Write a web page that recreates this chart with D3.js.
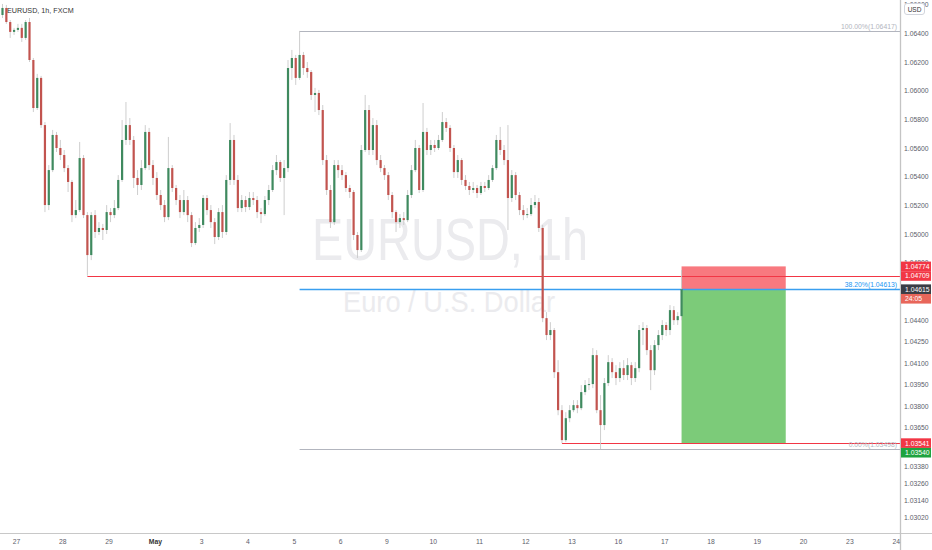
<!DOCTYPE html>
<html><head><meta charset="utf-8">
<script src="https://cdn.jsdelivr.net/npm/d3@7"></script>
<style>html,body{margin:0;padding:0;background:#fff;}svg{display:block;}</style>
</head><body>
<svg id="c" width="932" height="550"></svg>
<script>
// ---- data (2-hour bars) ----
const startHour = -8;   // hours from Apr 27 00:00
const barHours = 2;
const opens = [1.06528,1.06577,1.06479,1.06410,1.06424,1.06438,1.06368,1.06479,1.06214,1.05879,
1.06089,1.05760,1.05202,1.05446,1.05691,1.05600,1.05551,1.05460,1.05363,1.05132,
1.05167,1.05530,1.05132,1.04853,1.05132,1.05014,1.05042,1.05028,1.05153,1.05132,
1.05181,1.05377,1.05656,1.05760,1.05656,1.05391,1.05342,1.05460,1.05712,1.05481,
1.05391,1.05272,1.05202,1.05118,1.05460,1.05321,1.05237,1.05153,1.05237,1.05132,
1.04937,1.05042,1.05063,1.05251,1.05167,1.05083,1.04979,1.05153,1.05014,1.05377,
1.05656,1.05377,1.05181,1.05237,1.05188,1.05251,1.05237,1.05153,1.05139,1.05237,
1.05307,1.05446,1.05502,1.05391,1.05460,1.06158,1.06228,1.06089,1.06249,1.06158,
1.06130,1.05970,1.05984,1.05865,1.05516,1.05307,1.05083,1.05481,1.05446,1.05411,
1.05321,1.05293,1.04993,1.04888,1.05586,1.05865,1.05586,1.05760,1.05516,1.05460,
1.05411,1.05272,1.05153,1.05083,1.05111,1.05097,1.05272,1.05446,1.05600,1.05307,
1.05712,1.05586,1.05621,1.05600,1.05656,1.05781,1.05740,1.05600,1.05432,1.05516,
1.05377,1.05335,1.05307,1.05321,1.05286,1.05335,1.05321,1.05377,1.05460,1.05656,
1.05586,1.05516,1.05251,1.05411,1.05272,1.05167,1.05132,1.05139,1.05202,1.05223,
1.05042,1.04413,1.04295,1.04330,1.04036,1.03771,1.03562,1.03715,1.03771,1.03806,
1.03785,1.03897,1.03946,1.03953,1.04155,1.03771,1.03667,1.03960,1.04106,1.04036,
1.03995,1.04064,1.04016,1.04085,1.03995,1.04064,1.04330,1.04344,1.04190,1.04050,
1.04225,1.04295,1.04365,1.04330,1.04469,1.04399,1.04427];
const highs = [1.06605,1.06598,1.06493,1.06438,1.06466,1.06466,1.06493,1.06507,1.06228,1.06117,
1.06103,1.05781,1.05481,1.05726,1.05712,1.05656,1.05586,1.05481,1.05377,1.05237,
1.05642,1.05551,1.05153,1.05153,1.05167,1.05083,1.05070,1.05202,1.05181,1.05237,
1.05411,1.05795,1.05921,1.05809,1.05684,1.05446,1.05516,1.05760,1.05740,1.05516,
1.05432,1.05307,1.05237,1.05677,1.05481,1.05342,1.05272,1.05307,1.05265,1.05153,
1.05083,1.05111,1.05272,1.05272,1.05202,1.05111,1.05181,1.05202,1.05411,1.05774,
1.05691,1.05411,1.05272,1.05265,1.05293,1.05293,1.05265,1.05181,1.05265,1.05342,
1.05481,1.05551,1.05516,1.05516,1.06214,1.06284,1.06249,1.06417,1.06270,1.06200,
1.06144,1.06019,1.06005,1.05900,1.05551,1.05342,1.05516,1.05516,1.05481,1.05432,
1.05342,1.05307,1.05014,1.05621,1.05970,1.05900,1.05809,1.05795,1.05551,1.05481,
1.05432,1.05293,1.05167,1.05139,1.05153,1.05307,1.05481,1.05656,1.05621,1.05914,
1.05740,1.05656,1.05656,1.05691,1.05851,1.05809,1.05760,1.05621,1.05551,1.05530,
1.05411,1.05363,1.05363,1.05342,1.05363,1.05363,1.05411,1.05481,1.05691,1.05747,
1.05621,1.05760,1.05446,1.05432,1.05293,1.05202,1.05181,1.05251,1.05272,1.05251,
1.05063,1.04455,1.04385,1.04344,1.04120,1.03806,1.03757,1.03806,1.03841,1.03841,
1.03946,1.03981,1.03995,1.04204,1.04190,1.03876,1.03995,1.04155,1.04134,1.04085,
1.04106,1.04120,1.04134,1.04106,1.04106,1.04365,1.04385,1.04365,1.04225,1.04260,
1.04330,1.04399,1.04385,1.04504,1.04497,1.04455,1.04748];
const lows = [1.06507,1.06466,1.06368,1.06389,1.06410,1.06340,1.06354,1.06200,1.05851,1.05865,
1.05740,1.05153,1.05167,1.05432,1.05572,1.05516,1.05432,1.05293,1.05083,1.05111,
1.05153,1.05111,1.04709,1.04818,1.04972,1.04993,1.04958,1.05000,1.05083,1.05111,
1.05167,1.05363,1.05621,1.05621,1.05321,1.05272,1.05307,1.05446,1.05446,1.05342,
1.05237,1.05167,1.05083,1.05097,1.05293,1.05202,1.05111,1.05132,1.05083,1.04909,
1.04923,1.05014,1.05042,1.05132,1.05042,1.04930,1.04958,1.04972,1.04993,1.05342,
1.05342,1.05153,1.05153,1.05153,1.05167,1.05202,1.05111,1.05076,1.05125,1.05202,
1.05293,1.05411,1.05363,1.05132,1.05432,1.06075,1.06040,1.06075,1.06110,1.06089,
1.05935,1.05851,1.05830,1.05481,1.05272,1.05042,1.05063,1.05391,1.05377,1.05293,
1.05251,1.04958,1.04832,1.04874,1.05572,1.05551,1.05551,1.05481,1.05432,1.05377,
1.05237,1.05111,1.05014,1.05042,1.05063,1.05083,1.05251,1.05432,1.05286,1.05293,
1.05551,1.05551,1.05572,1.05586,1.05642,1.05712,1.05572,1.05391,1.05391,1.05342,
1.05307,1.05272,1.05286,1.05251,1.05272,1.05293,1.05307,1.05363,1.05446,1.05551,
1.05481,1.05028,1.05223,1.05237,1.05132,1.05097,1.05111,1.05125,1.05181,1.05014,
1.04385,1.04260,1.04260,1.03995,1.03736,1.03541,1.03548,1.03687,1.03757,1.03750,
1.03771,1.03876,1.03911,1.03925,1.03750,1.03498,1.03632,1.03939,1.03995,1.03946,
1.03967,1.03981,1.03981,1.03946,1.03967,1.04036,1.04225,1.04155,1.03911,1.04016,
1.04190,1.04260,1.04288,1.04295,1.04365,1.04365,1.04399];
const closes = [1.06577,1.06479,1.06410,1.06424,1.06438,1.06368,1.06479,1.06214,1.05879,1.06089,
1.05760,1.05202,1.05446,1.05691,1.05600,1.05551,1.05460,1.05363,1.05132,1.05167,
1.05530,1.05132,1.04853,1.05132,1.05014,1.05042,1.05028,1.05153,1.05132,1.05181,
1.05377,1.05656,1.05760,1.05656,1.05391,1.05342,1.05460,1.05712,1.05481,1.05391,
1.05272,1.05202,1.05118,1.05460,1.05321,1.05237,1.05153,1.05237,1.05132,1.04937,
1.05042,1.05063,1.05251,1.05167,1.05083,1.04979,1.05153,1.05014,1.05377,1.05656,
1.05377,1.05181,1.05237,1.05188,1.05251,1.05237,1.05153,1.05139,1.05237,1.05307,
1.05446,1.05502,1.05391,1.05460,1.06158,1.06228,1.06089,1.06249,1.06158,1.06130,
1.05970,1.05984,1.05865,1.05516,1.05307,1.05083,1.05481,1.05446,1.05411,1.05321,
1.05293,1.04993,1.04888,1.05586,1.05865,1.05586,1.05760,1.05516,1.05460,1.05411,
1.05272,1.05153,1.05083,1.05111,1.05097,1.05272,1.05446,1.05600,1.05307,1.05712,
1.05586,1.05621,1.05600,1.05656,1.05781,1.05740,1.05600,1.05432,1.05516,1.05377,
1.05335,1.05307,1.05321,1.05286,1.05335,1.05321,1.05377,1.05460,1.05656,1.05586,
1.05516,1.05251,1.05411,1.05272,1.05167,1.05132,1.05139,1.05202,1.05223,1.05042,
1.04413,1.04295,1.04330,1.04036,1.03771,1.03562,1.03715,1.03771,1.03806,1.03785,
1.03897,1.03946,1.03953,1.04155,1.03771,1.03667,1.03960,1.04106,1.04036,1.03995,
1.04064,1.04016,1.04085,1.03995,1.04064,1.04330,1.04344,1.04190,1.04050,1.04225,
1.04295,1.04365,1.04330,1.04469,1.04399,1.04427,1.04615];

const dayLabels = ["27","28","29","May","3","4","5","6","9","10","11","12","13","16","17","18","19","20","23","24"];
const priceTicks = [1.06600,1.06400,1.06200,1.06000,1.05800,1.05600,1.05400,1.05200,1.05000,1.04800,
  1.04400,1.04250,1.04100,1.03950,1.03800,1.03650,1.03380,1.03260,1.03140,1.03020];

// drawings
const redLevel1 = 1.04709, redLevel1From = 36;   // hour anchor
const redLevel2 = 1.03541, redLevel2From = 282;
const fibHigh = 1.06417, fibLow = 1.03498, fib382 = 1.04613, fibFrom = 146;
const posEntry = 1.04613, posStop = 1.04774, posTarget = 1.03540, posFrom = 345, posTo = 399;
const axisBoxes = [
  {v:1.04774, label:"1.04774", fill:"#f23645"},
  {v:1.04709, label:"1.04709", fill:"#f23645"},
  {v:1.04615, label:"1.04615", fill:"#3a3d45"},
  {v:null, label:"24:05", fill:"#e8665a"},
  {v:1.03541, label:"1.03541", fill:"#f23645"},
  {v:1.03540, label:"1.03540", fill:"#1ea33f"}
];

// ---- layout ----
const W = 932, H = 550, axisX = 900, axisY = 533;
const svg = d3.select("#c");
const x = d3.scaleLinear().domain([0, 19*24]).range([16, 895.7]);
const y = d3.scaleLinear().domain([1.029139, 1.066326]).range([axisY, 0]);
const cy = v => Math.round(y(v)) + 0.5;
const font = "'Liberation Sans', Arial, sans-serif";

const bars = opens.map((o,i)=>({o, h:highs[i], l:lows[i], c:closes[i], t:startHour + i*barHours}));

// watermark
svg.append("text").attr("x", 312).attr("y", 260).attr("textLength", 276).attr("lengthAdjust","spacingAndGlyphs")
  .attr("font-family", font).attr("font-size", 60).attr("fill", "#ebebee").text("EURUSD, 1h");
svg.append("text").attr("x", 343).attr("y", 312).attr("textLength", 212).attr("lengthAdjust","spacingAndGlyphs")
  .attr("font-family", font).attr("font-size", 30).attr("fill", "#ebebee").text("Euro / U.S. Dollar");

// position tool
svg.append("rect").attr("x", x(posFrom)).attr("width", x(posTo)-x(posFrom))
  .attr("y", y(posStop)).attr("height", y(posEntry)-y(posStop)).attr("fill", "#f8797f");
svg.append("rect").attr("x", x(posFrom)).attr("width", x(posTo)-x(posFrom))
  .attr("y", y(posEntry)).attr("height", y(posTarget)-y(posEntry)).attr("fill", "#7ccb79");

const plot = svg.append("g");
function hline(v, from, col, w) {
  plot.append("line").attr("x1", x(from+1)).attr("x2", axisX).attr("y1", cy(v)).attr("y2", cy(v))
    .attr("stroke", col).attr("stroke-width", w);
}
hline(fibHigh, fibFrom, "#b2b5be", 1);
hline(fibLow, fibFrom, "#b2b5be", 1);
hline(redLevel1, redLevel1From, "#f23645", 1.2);
hline(redLevel2, redLevel2From, "#f23645", 1.2);
hline(fib382, fibFrom, "#3a9ff0", 1.6);

// fib labels
const fibLab = [[fibHigh,"100.00%(1.06417)","#b2b5be"],[fib382,"38.20%(1.04613)","#2196f3"],[fibLow,"0.00%(1.03498)","#b2b5be"]];
fibLab.forEach(([v,t,col])=>{
  svg.append("text").attr("x", axisX-3).attr("y", y(v)-2).attr("text-anchor","end")
    .attr("font-family", font).attr("font-size", 6.8).attr("fill", col).text(t);
});

// candles
const cg = svg.append("g");
cg.selectAll("line.w").data(bars).join("line").attr("class","w")
  .attr("x1", d=>x(d.t+barHours/2)).attr("x2", d=>x(d.t+barHours/2))
  .attr("y1", d=>y(d.h)).attr("y2", d=>y(d.l)).attr("stroke", "#c8c8c8").attr("stroke-width", 0.9);
cg.selectAll("rect.b").data(bars).join("rect").attr("class","b")
  .attr("x", d=>x(d.t+barHours/2)-1.1).attr("width", 2.2)
  .attr("y", d=>y(Math.max(d.o,d.c)))
  .attr("height", d=>Math.max(1, Math.abs(y(d.o)-y(d.c))))
  .attr("fill", d=>d.c>=d.o ? "#3f8a5f" : "#c2544f");

// title
svg.append("text").attr("x", 7).attr("y", 13).attr("font-family", font).attr("font-size", 7.2)
  .attr("fill", "#333").text("EURUSD, 1h, FXCM");

// axes frame
svg.append("rect").attr("x", axisX).attr("y", 0).attr("width", W-axisX).attr("height", H).attr("fill", "#fff");
svg.append("rect").attr("x", 0).attr("y", axisY).attr("width", W).attr("height", H-axisY).attr("fill", "#fff");
svg.append("line").attr("x1", 0).attr("x2", W).attr("y1", axisY+0.5).attr("y2", axisY+0.5).attr("stroke", "#c8c8c8");
svg.append("line").attr("x1", axisX+0.5).attr("x2", axisX+0.5).attr("y1", 0).attr("y2", H).attr("stroke", "#c4c4c4").attr("stroke-width", 1.3);

const yAxis = svg.append("g").attr("transform", `translate(${axisX},0)`)
  .call(d3.axisRight(y).tickValues(priceTicks).tickFormat(d3.format(".5f")).tickSize(0).tickPadding(4));
yAxis.select(".domain").remove();
yAxis.selectAll("text").attr("font-family", font).attr("font-size", 6.8).attr("fill", "#5d606b");

const xAxis = svg.append("g").attr("transform", `translate(0,${axisY})`)
  .call(d3.axisBottom(x).tickValues(dayLabels.map((d,i)=>i*24)).tickFormat((d,i)=>dayLabels[i]).tickSize(0).tickPadding(6));
xAxis.select(".domain").remove();
xAxis.selectAll("text").attr("font-family", font).attr("font-size", 6.8)
  .attr("fill", (d,i)=>dayLabels[i]==="May" ? "#333" : "#5d606b")
  .attr("font-weight", (d,i)=>dayLabels[i]==="May" ? "bold" : "normal");

// axis price boxes
let prevBottom = -100;
axisBoxes.forEach((b)=>{
  const h = 9.6;
  let top = b.v===null ? prevBottom : y(b.v) - h/2;
  if (top < prevBottom) top = prevBottom;
  svg.append("rect").attr("x", axisX+1).attr("y", top).attr("width", W-axisX-2).attr("height", h).attr("fill", b.fill);
  svg.append("text").attr("x", axisX+5).attr("y", top+h/2+2.4).attr("font-family", font).attr("font-size", 6.8)
    .attr("fill", "#fff").text(b.label);
  prevBottom = top + h;
});

// USD badge
svg.append("rect").attr("x", 904.5).attr("y", 3.5).attr("width", 20).attr("height", 11).attr("rx", 2.5)
  .attr("fill", "#fff").attr("stroke", "#d1d4dc");
svg.append("text").attr("x", 914.5).attr("y", 11.6).attr("text-anchor","middle").attr("font-family", font)
  .attr("font-size", 6.5).attr("fill", "#333").text("USD");
</script>
</body></html>
